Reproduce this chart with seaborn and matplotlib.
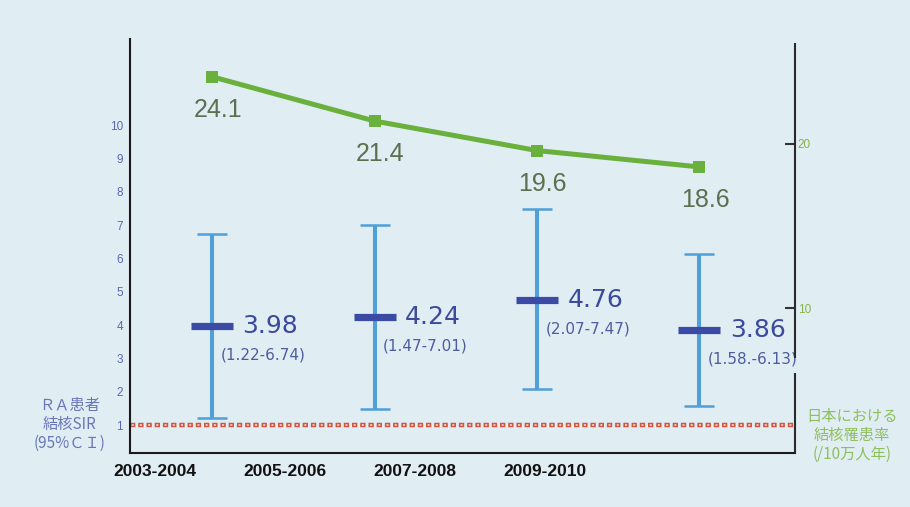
import numpy as np
import matplotlib
matplotlib.use("Agg")
import matplotlib.pyplot as plt
import seaborn as sns

# ---- data ----
periods = ["2003-2004", "2005-2006", "2007-2008", "2009-2010"]
sir_mean = [3.98, 4.24, 4.76, 3.86]
sir_low = [1.22, 1.47, 2.07, 1.58]
sir_high = [6.74, 7.01, 7.47, 6.13]
ci_labels = ["(1.22-6.74)", "(1.47-7.01)", "(2.07-7.47)", "(1.58.-6.13)"]
tb_rate = [24.1, 21.4, 19.6, 18.6]
left_ticks = [1, 2, 3, 4, 5, 6, 7, 8, 9, 10]
right_ticks = [10, 20]

sns.set_theme(style="white")
plt.rcParams["font.family"] = ["Liberation Sans", "Noto Sans CJK JP", "DejaVu Sans"]

BG = "#e0edf3"
W, H = 910, 507
fig = plt.figure(figsize=(W / 100, H / 100), dpi=100, facecolor=BG)

L, R, B, T = 130, 795, 453, 39
ax = fig.add_axes([L / W, (H - B) / H, (R - L) / W, (B - T) / H])
ax.set_facecolor(BG)
x = np.arange(len(periods))

ax.set_xlim(-0.505, 3.588)
ax.set_ylim(0.16, 12.58)

# reference line at SIR = 1 (hollow square dots)
lw_o, lw_i = 3.2, 1.2
px_o, px_i = lw_o * 100 / 72, lw_i * 100 / 72
on_o, off_o = 1.2, 0.65
period = (on_o + off_o) * px_o
on_i_px = 2.0
start_i = (on_o * px_o - on_i_px) / 2
ax.axhline(1, color="#d4553f", lw=lw_o, linestyle=(0, (on_o, off_o)), zorder=1)
ax.axhline(1, color="#ecdcdc", lw=lw_i,
           linestyle=((period - start_i) / px_i, (on_i_px / px_i, (period - on_i_px) / px_i)),
           zorder=1.1)

# error bars
mean = np.array(sir_mean)
yerr = [mean - np.array(sir_low), np.array(sir_high) - mean]
ax.errorbar(x, mean, yerr=yerr, fmt="none", ecolor="#4f9fd8", elinewidth=2.9,
            capsize=10.8, capthick=1.8, zorder=2)
sns.scatterplot(x=x, y=sir_mean, marker="_", s=900, linewidth=5.2,
                color="#3b4ba5", ax=ax, zorder=3, legend=False)

for xi, m, ci in zip(x, sir_mean, ci_labels):
    ax.annotate(f"{m:.2f}", (xi, m), xytext=(22, 0), textcoords="offset points",
                ha="left", va="center", fontsize=18, color="#3c4a9c",
                family=["DejaVu Sans"])
    ax.annotate(ci, (xi, m), xytext=(6, -21), textcoords="offset points",
                ha="left", va="center", fontsize=11, color="#4f5c9e",
                family=["DejaVu Sans"])

# axes styling
for s in ["top", "right"]:
    ax.spines[s].set_visible(False)
for s in ["left", "bottom"]:
    ax.spines[s].set_color("#1a1a1a")
    ax.spines[s].set_linewidth(1.5)
ax.set_yticks(left_ticks)
ax.set_yticklabels([str(t) for t in left_ticks])
ax.tick_params(axis="y", length=0, pad=5, labelsize=8.5, labelcolor="#5a68b0")
ax.set_xticks(np.arange(len(periods)) * 0.8 - 0.35)
ax.set_xticklabels(periods, fontweight="bold",
                   family=["Liberation Sans Narrow", "Liberation Sans"], fontsize=12.5)
ax.tick_params(axis="x", length=0, pad=8, labelcolor="#111111")
ax.set_xlabel("")
ax.set_ylabel("")

# secondary axis: TB incidence in Japan
ax2 = ax.twinx()
ax2.set_ylim(1.16, 26.4)
sns.lineplot(x=x, y=tb_rate, ax=ax2, color="#69b03c", linewidth=3.6,
             marker="s", markersize=8.5, markeredgewidth=0, legend=False)
for xi, v in zip(x, tb_rate):
    ax2.annotate(f"{v}", (xi, v), xytext=(4, -24), textcoords="offset points",
                 ha="center", va="center", fontsize=18, color="#5e6e50")
for s in ax2.spines.values():
    s.set_visible(False)
ax2.set_yticks(right_ticks)
ax2.set_yticklabels([str(t) for t in right_ticks])
ax2.tick_params(axis="y", direction="in", length=7, width=1.5, color="#333333",
                pad=2, labelsize=8.5, labelcolor="#86b446")
ax2.set_ylabel("")
ax2.grid(False)
ax.grid(False)
# broken right spine
ax2.plot([1, 1], [0, 0.193], transform=ax2.transAxes, color="#2a2a2a", lw=1.5,
         clip_on=False, solid_capstyle="butt")
ax2.plot([1, 1], [0.229, 0.99], transform=ax2.transAxes, color="#2a2a2a", lw=1.5,
         clip_on=False, solid_capstyle="butt")

# side captions
fig.text(70 / W, 1 - 424 / H, "ＲＡ患者\n結核SIR\n(95%ＣＩ)", ha="center", va="center",
         fontsize=11, color="#6a76b8", linespacing=1.15,
         family=["Noto Sans CJK JP", "DejaVu Sans"])
fig.text(852 / W, 1 - 435 / H, "日本における\n結核罹患率\n(/10万人年)", ha="center",
         va="center", fontsize=11, color="#8dbf5d", linespacing=1.15,
         family=["Noto Sans CJK JP", "DejaVu Sans"])

fig.savefig("out.png", dpi=100, facecolor=BG)
